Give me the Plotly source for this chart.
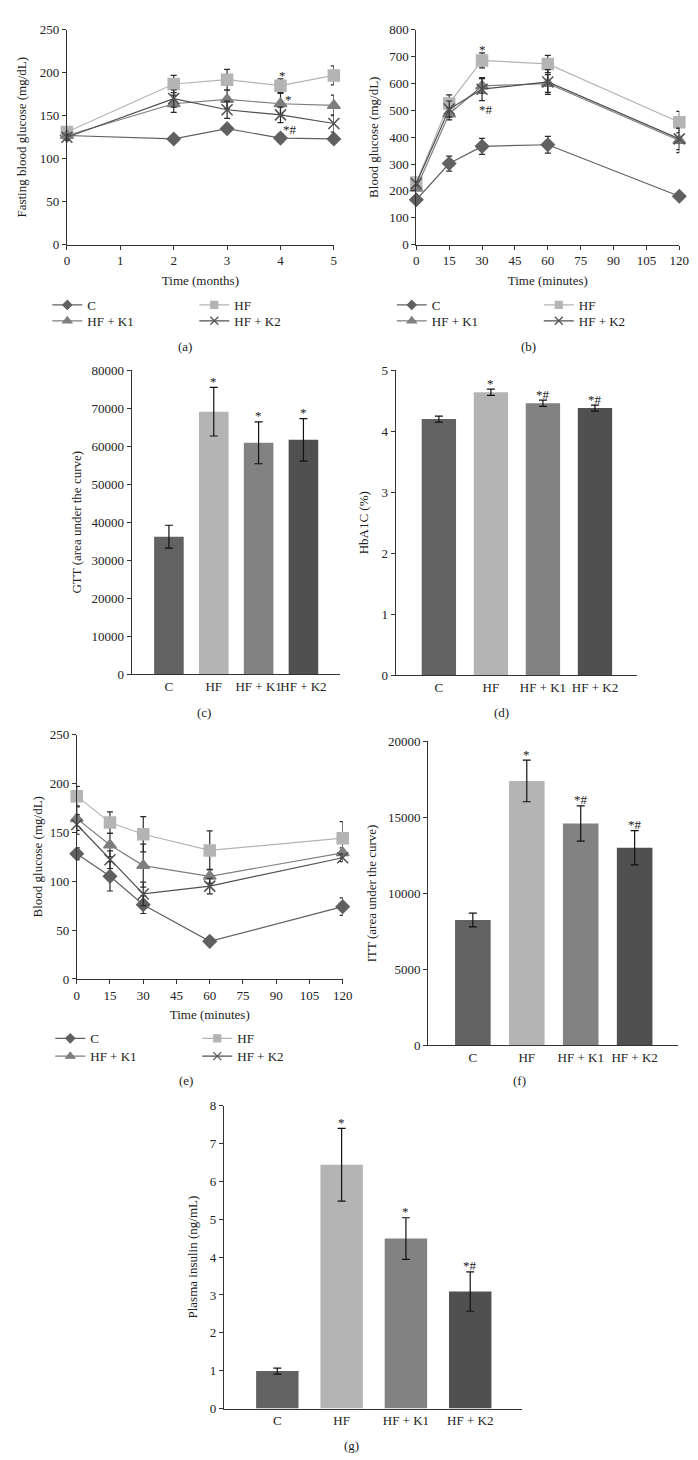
import plotly.graph_objects as go

W, H = 698, 1460
FONT = "Liberation Serif"
TXT = "#222222"

groups = ["C", "HF", "HF + K1", "HF + K2"]
line_colors = ["#606060", "#b4b4b4", "#7e7e7e", "#505050"]
bar_colors = ["#626262", "#b4b4b4", "#828282", "#505050"]
symbols = ["diamond", "square", "triangle-up", "x-thin-open"]
msizes = [10, 11, 11, 11]
leg_msizes = [7, 7, 8, 8]

# (a) Fasting blood glucose
months = [0, 2, 3, 4, 5]
fbg = {
    "C": [127, 123, 135, 124, 123],
    "HF": [131, 187, 192, 185, 197],
    "HF + K1": [127, 164, 169, 164, 162],
    "HF + K2": [125, 170, 157, 151, 141],
}
fbg_err = {
    "C": [3, 4, 4, 5, 5],
    "HF": [3, 10, 12, 8, 11],
    "HF + K1": [3, 10, 11, 12, 12],
    "HF + K2": [3, 10, 10, 9, 10],
}
fbg_sig = [("*", 4.03, 200), ("*", 4.15, 172), ("*#", 4.17, 137),
           ("*", 5.04, 215), ("*", 5.15, 167), ("*#", 5.35, 140)]

# (b) Glucose tolerance test
minutes = [0, 15, 30, 60, 120]
gtt = {
    "C": [167, 302, 366, 372, 180],
    "HF": [231, 526, 686, 673, 456],
    "HF + K1": [210, 487, 591, 600, 388],
    "HF + K2": [228, 505, 579, 606, 394],
}
gtt_err = {
    "C": [5, 28, 30, 31, 6],
    "HF": [8, 32, 28, 32, 40],
    "HF + K1": [8, 22, 27, 33, 45],
    "HF + K2": [8, 30, 43, 46, 40],
}
gtt_sig = [("*", 30.4, 738), ("*#", 31.8, 513)]

# (c) GTT AUC
gtt_auc = [36200, 69100, 60900, 61700]
gtt_auc_err = [3000, 6400, 5500, 5600]
gtt_auc_sig = ["", "*", "*", "*"]

# (d) HbA1C
hba1c = [4.20, 4.64, 4.46, 4.38]
hba1c_err = [0.05, 0.05, 0.05, 0.05]
hba1c_sig = ["", "*", "*#", "*#"]

# (e) Insulin tolerance test
itt = {
    "C": [128, 105, 76, 38.5, 74],
    "HF": [187, 160, 148, 131.5, 144],
    "HF + K1": [164, 137, 116, 105, 129],
    "HF + K2": [158, 122, 87, 95, 124],
}
itt_err = {
    "C": [6, 15, 9, 4, 9],
    "HF": [10, 11, 18, 20, 17],
    "HF + K1": [12, 12, 22, 7, 5],
    "HF + K2": [10, 9, 12, 8, 4],
}

# (f) ITT AUC
itt_auc = [8250, 17400, 14600, 13000]
itt_auc_err = [450, 1370, 1160, 1130]
itt_auc_sig = ["", "*", "*#", "*#"]

# (g) Plasma insulin
insulin = [0.99, 6.44, 4.49, 3.09]
insulin_err = [0.08, 0.96, 0.55, 0.52]
insulin_sig = ["", "*", "*", "*#"]

fig = go.Figure()


def px_dom_x(a, b):
    return [a / W, b / W]


def px_dom_y(top, bottom):
    return [1 - bottom / H, 1 - top / H]


axis_common = dict(
    showline=True, linecolor="#333333", linewidth=1, showgrid=False,
    zeroline=False, ticks="outside", ticklen=4, tickcolor="#333333",
    tickfont=dict(family=FONT, size=13, color=TXT),
    title_font=dict(family=FONT, size=13, color=TXT),
)

layout_axes = {}
annotations = []


def add_line_panel(idx, xs, data, err, xdom, ydom, xrange, yrange, xdtick, ydtick,
                   xtitle, ytitle, legRow1, legRow2, sig, ystand):
    xa = "x" if idx == 1 else f"x{idx}"
    ya = "y" if idx == 1 else f"y{idx}"
    for i, g in enumerate(groups):
        fig.add_trace(go.Scatter(
            x=xs, y=data[g], name=g, mode="lines+markers",
            xaxis=xa, yaxis=ya, cliponaxis=False, showlegend=False,
            line=dict(color=line_colors[i], width=1.2),
            marker=dict(symbol=symbols[i], size=msizes[i], color=line_colors[i],
                        line=dict(color=line_colors[i], width=1.5)),
            error_y=dict(type="data", array=err[g], visible=True, color="#2a2a2a",
                         thickness=1.2, width=3),
        ))
        # legend-only entry with a smaller symbol, as in the original key
        fig.add_trace(go.Scatter(
            x=[None], y=[None], name=g, mode="lines+markers",
            xaxis=xa, yaxis=ya, showlegend=True,
            line=dict(color=line_colors[i], width=1.2),
            marker=dict(symbol=symbols[i], size=leg_msizes[i], color=line_colors[i],
                        line=dict(color=line_colors[i], width=1.2)),
            legend=legRow1 if i < 2 else legRow2,
        ))
    layout_axes["xaxis" if idx == 1 else f"xaxis{idx}"] = dict(
        axis_common, domain=xdom, anchor=ya, range=xrange, dtick=xdtick,
        tick0=0, title_text=xtitle, title_standoff=8)
    layout_axes["yaxis" if idx == 1 else f"yaxis{idx}"] = dict(
        axis_common, domain=ydom, anchor=xa, range=yrange, dtick=ydtick,
        tickformat="d", title_text=ytitle, title_standoff=ystand)
    for t, x, y in sig:
        annotations.append(dict(text=t, x=x, y=y, xref=xa, yref=ya, showarrow=False,
                                yanchor="middle", yshift=-3,
                                font=dict(family=FONT, size=13, color=TXT)))


def add_bar_panel(idx, vals, err, sig, xdom, ydom, yrange, ydtick, ytitle, ystand):
    xa = f"x{idx}"
    ya = f"y{idx}"
    fig.add_trace(go.Bar(
        x=groups, y=vals, xaxis=xa, yaxis=ya, showlegend=False,
        marker=dict(color=bar_colors, line=dict(width=0)),
        error_y=dict(type="data", array=err, visible=True, color="#111111",
                     thickness=1.2, width=4),
    ))
    layout_axes[f"xaxis{idx}"] = dict(
        axis_common, domain=xdom, anchor=ya, range=[-0.83, 3.81], ticks="",
        type="category", tickangle=0)
    layout_axes[f"yaxis{idx}"] = dict(
        axis_common, domain=ydom, anchor=xa, range=yrange, dtick=ydtick,
        tickformat="d", title_text=ytitle, title_standoff=ystand)
    for g, v, e, s in zip(groups, vals, err, sig):
        if s:
            annotations.append(dict(text=s, x=g, y=v + e, xref=xa, yref=ya,
                                    showarrow=False, yanchor="middle", yshift=6,
                                    font=dict(family=FONT, size=13, color=TXT)))


add_line_panel(1, months, fbg, fbg_err, px_dom_x(57, 329), px_dom_y(15, 232),
               [0, 5], [0, 250], 1, 50, "Time (months)",
               "Fasting blood glucose (mg/dL)", "legend", "legend2", fbg_sig, 10)
add_line_panel(2, minutes, gtt, gtt_err, px_dom_x(413, 681), px_dom_y(15, 232),
               [0, 120], [0, 800], 15, 100, "Time (minutes)",
               "Blood glucose (mg/dL)", "legend3", "legend4", gtt_sig, 7)
add_bar_panel(3, gtt_auc, gtt_auc_err, gtt_auc_sig, px_dom_x(123, 335),
              px_dom_y(359, 666), [0, 80000], 10000, "GTT (area under the curve)", 7)
add_bar_panel(4, hba1c, hba1c_err, hba1c_sig, px_dom_x(392, 638),
              px_dom_y(359, 667), [0, 5], 1, "HbA1C (%)", 10)
add_line_panel(5, minutes, itt, itt_err, px_dom_x(67, 338), px_dom_y(727, 974),
               [0, 120], [0, 250], 15, 50, "Time (minutes)",
               "Blood glucose (mg/dL)", "legend5", "legend6", [], 4)
add_bar_panel(6, itt_auc, itt_auc_err, itt_auc_sig, px_dom_x(425, 680),
              px_dom_y(734, 1041), [0, 20000], 5000, "ITT (area under the curve)", 8)
add_bar_panel(7, insulin, insulin_err, insulin_sig, px_dom_x(217, 521),
              px_dom_y(1102, 1408), [0, 8], 1, "Plasma insulin (ng/mL)", 9)

# panel labels
for lab, x, y in [("(a)", 177, 335), ("(b)", 527, 335), ("(c)", 197, 705),
                  ("(d)", 500, 705), ("(e)", 178, 1077), ("(f)", 518, 1077),
                  ("(g)", 347, 1445)]:
    annotations.append(dict(text=lab, x=x / W, y=1 - y / H, xref="paper", yref="paper",
                            showarrow=False, xanchor="center", yanchor="middle",
                            font=dict(family=FONT, size=13, color=TXT)))


def leg(x, y):
    return dict(x=x / W, y=1 - y / H, xanchor="left", yanchor="middle",
                orientation="h", entrywidth=102, entrywidthmode="pixels",
                bgcolor="rgba(0,0,0,0)", itemwidth=30, tracegroupgap=0,
                font=dict(family=FONT, size=13, color=TXT))


fig.update_layout(
    width=W, height=H, margin=dict(l=0, r=0, t=0, b=0),
    paper_bgcolor="white", plot_bgcolor="white",
    bargap=0.34,
    font=dict(family=FONT, size=13, color=TXT),
    annotations=annotations,
    legend=leg(37, 293), legend2=leg(37, 309),
    legend3=leg(388, 293), legend4=leg(388, 309),
    legend5=leg(40, 1034), legend6=leg(40, 1052),
    **layout_axes,
)

fig.write_html("out.html")
